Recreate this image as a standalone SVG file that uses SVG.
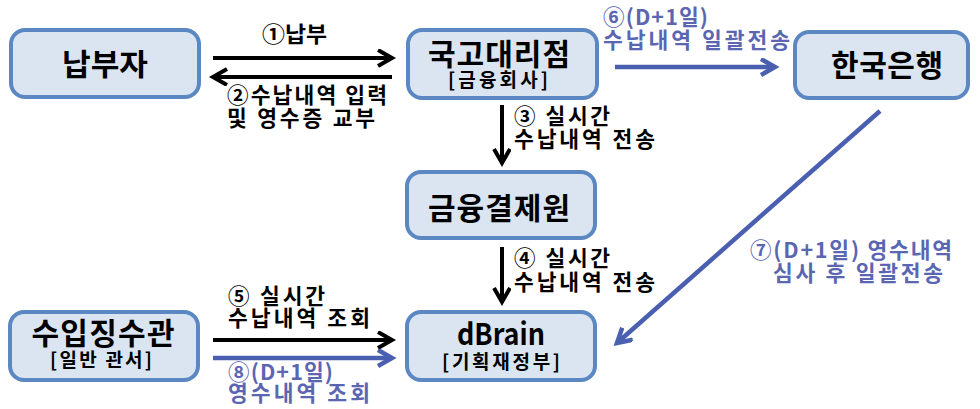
<svg xmlns="http://www.w3.org/2000/svg" width="980" height="409" viewBox="0 0 980 409">
<defs>
<style>
.box{fill:#dbe5f1;stroke:#5b88c2;stroke-width:4}
.t{font-family:"Noto Sans CJK KR","Noto Sans",sans-serif;font-weight:700;fill:#000}
.main{font-size:30px}
.sub{font-size:19px}
.lbl{font-size:21.5px}
.blue{fill:#5a66b2}
.ab{stroke:#000;stroke-width:4;fill:none}
.au{stroke:#4a5fb0;stroke-width:4.5;fill:none}
</style>
<marker id="mk" markerUnits="userSpaceOnUse" markerWidth="20" markerHeight="20" refX="15" refY="9" orient="auto">
<path d="M1,1 L15,9 L1,17" fill="none" stroke="#000" stroke-width="4"/>
</marker>
<marker id="mb" markerUnits="userSpaceOnUse" markerWidth="20" markerHeight="20" refX="15" refY="9" orient="auto">
<path d="M1,1 L15,9 L1,17" fill="none" stroke="#4a5fb0" stroke-width="4.5"/>
</marker>
</defs>
<rect width="980" height="409" fill="#fff"/>

<g id="n-payer">
<rect class="box" x="11" y="30" width="188" height="67" rx="14"/>
<text class="t main" x="105" y="75" text-anchor="middle" textLength="86" lengthAdjust="spacingAndGlyphs">납부자</text>
</g>
<g id="n-agent">
<rect class="box" x="408" y="30" width="189" height="68" rx="14"/>
<text class="t main" x="499" y="65" text-anchor="middle" textLength="142" lengthAdjust="spacing">국고대리점</text>
<text class="t sub" x="498" y="87" text-anchor="middle" textLength="100" lengthAdjust="spacing">[금융회사]</text>
</g>
<g id="n-bok">
<rect class="box" x="795" y="32" width="173" height="66" rx="14"/>
<text class="t main" x="887" y="76" text-anchor="middle" textLength="112" lengthAdjust="spacing">한국은행</text>
</g>
<g id="n-kftc">
<rect class="box" x="407" y="172" width="188" height="66" rx="14"/>
<text class="t main" x="499" y="219" text-anchor="middle" textLength="142" lengthAdjust="spacing">금융결제원</text>
</g>
<g id="n-collector">
<rect class="box" x="10" y="312" width="188" height="68" rx="14"/>
<text class="t main" x="103" y="344" text-anchor="middle" textLength="143" lengthAdjust="spacing">수입징수관</text>
<text class="t sub" x="101" y="367" text-anchor="middle" textLength="102" lengthAdjust="spacing">[일반 관서]</text>
</g>
<g id="n-dbrain">
<rect class="box" x="407" y="312" width="188" height="68" rx="14"/>
<text class="t main" x="501" y="345" text-anchor="middle" textLength="88" lengthAdjust="spacingAndGlyphs">dBrain</text>
<text class="t sub" x="501" y="369" text-anchor="middle" textLength="118" lengthAdjust="spacing">[기획재정부]</text>
</g>

<g id="connectors">
<line class="ab" x1="213" y1="58" x2="392" y2="58" marker-end="url(#mk)"/>
<line class="ab" x1="392" y1="77" x2="213" y2="77" marker-end="url(#mk)"/>
<line class="au" x1="615" y1="67" x2="775" y2="67" marker-end="url(#mb)"/>
<line class="ab" x1="502" y1="105" x2="502" y2="163" marker-end="url(#mk)"/>
<line class="ab" x1="502" y1="247" x2="502" y2="302" marker-end="url(#mk)"/>
<line class="au" x1="880" y1="111" x2="617" y2="343" marker-end="url(#mb)"/>
<line class="ab" x1="213" y1="340" x2="392" y2="340" marker-end="url(#mk)"/>
<line class="au" x1="213" y1="358" x2="392" y2="358" marker-end="url(#mb)"/>
</g>

<g id="labels">
<text class="t lbl" x="262" y="42" textLength="65" lengthAdjust="spacingAndGlyphs">①납부</text>
<text class="t lbl" x="227" y="103" textLength="160" lengthAdjust="spacing">②수납내역 입력</text>
<text class="t lbl" x="227" y="126" textLength="148" lengthAdjust="spacing">및 영수증 교부</text>
<text class="t lbl blue" x="603" y="25" textLength="105" lengthAdjust="spacing">⑥(D+1일)</text>
<text class="t lbl blue" x="603" y="48" textLength="187" lengthAdjust="spacing">수납내역 일괄전송</text>
<text class="t lbl" x="514" y="124" textLength="96" lengthAdjust="spacing">③ 실시간</text>
<text class="t lbl" x="514" y="147" textLength="141" lengthAdjust="spacing">수납내역 전송</text>
<text class="t lbl" x="514" y="266" textLength="96" lengthAdjust="spacing">④ 실시간</text>
<text class="t lbl" x="514" y="290" textLength="141" lengthAdjust="spacing">수납내역 전송</text>
<text class="t lbl blue" x="750" y="258" textLength="202" lengthAdjust="spacing">⑦(D+1일) 영수내역</text>
<text class="t lbl blue" x="773" y="281" textLength="170" lengthAdjust="spacing">심사 후 일괄전송</text>
<text class="t lbl" x="228" y="304" textLength="97" lengthAdjust="spacing">⑤ 실시간</text>
<text class="t lbl" x="228" y="326" textLength="142" lengthAdjust="spacing">수납내역 조회</text>
<text class="t lbl blue" x="228" y="380" textLength="105" lengthAdjust="spacing">⑧(D+1일)</text>
<text class="t lbl blue" x="228" y="401" textLength="142" lengthAdjust="spacing">영수내역 조회</text>
</g>
</svg>
